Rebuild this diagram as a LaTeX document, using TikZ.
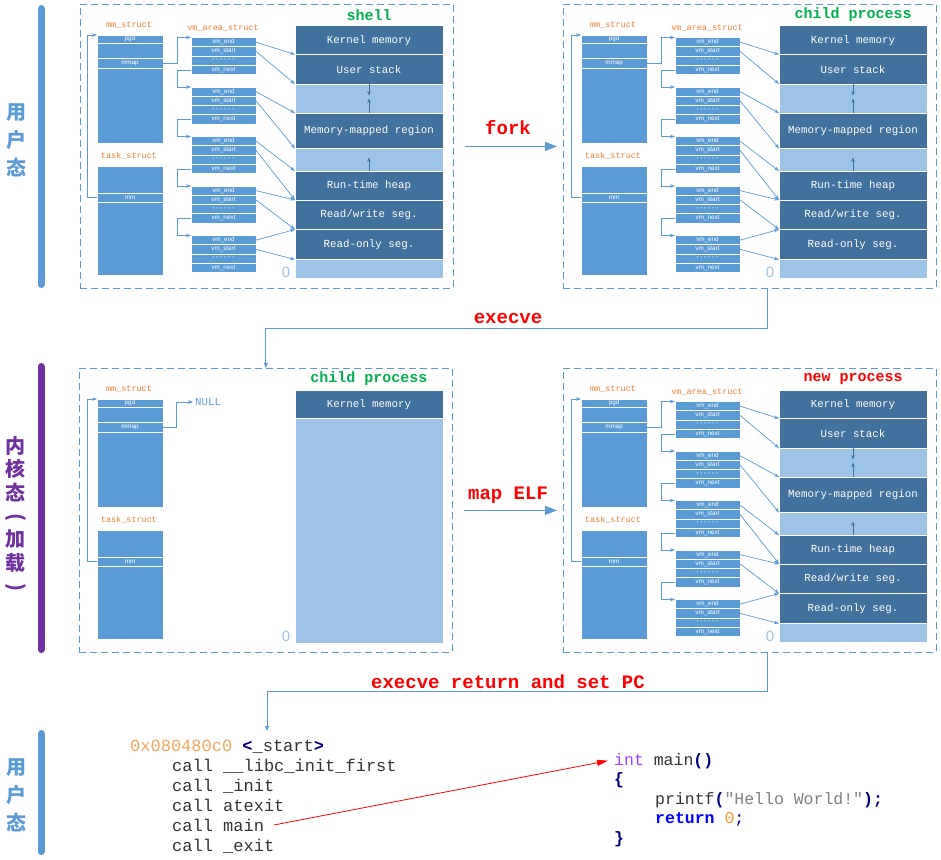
\documentclass[tikz,border=0pt]{standalone}
\usepackage{fontspec}
\setmainfont{Liberation Serif}
\setsansfont{Liberation Sans}
\setmonofont{Liberation Mono}
\newfontfamily\cjk{Noto Sans CJK SC}
\usetikzlibrary{arrows.meta,calc}

\definecolor{blk}{HTML}{5B9BD5}
\definecolor{seg}{HTML}{41719C}
\definecolor{gap}{HTML}{9DC3E6}
\definecolor{lbl}{HTML}{ED7D31}
\definecolor{ttl}{HTML}{00B050}
\definecolor{kern}{HTML}{7030A0}
\definecolor{addr}{HTML}{F5A65B}
\definecolor{navy}{HTML}{000080}
\definecolor{ink}{HTML}{333333}
\definecolor{kw}{HTML}{A040FF}
\definecolor{str}{HTML}{808080}
\definecolor{num}{HTML}{FF9933}

\tikzset{
  panel/.style={draw=blk, dash pattern=on 7pt off 4pt, line width=0.8pt, anchor=north west,
    inner sep=0pt, minimum width=373pt, minimum height=284pt},
  cell/.style={fill=blk, draw=white, line width=0.7pt, anchor=north west, inner sep=0pt,
    outer sep=0pt, text=white, font=\sffamily\fontsize{6.3}{7}\selectfont},
  mmcell/.style={cell, minimum width=66pt, minimum height=#1},
  vmcell/.style={cell, minimum width=65pt, minimum height=9.25pt},
  segbox/.style={fill=seg, draw=white, line width=1pt, anchor=north west, inner sep=0pt,
    outer sep=0pt, minimum width=148pt, minimum height=#1, text=white,
    font=\ttfamily\fontsize{10.8}{12}\selectfont},
  gapbox/.style={segbox=#1, fill=gap},
  structtag/.style={text=lbl, font=\ttfamily\fontsize{8.5}{10}\selectfont},
  proctitle/.style={font=\ttfamily\bfseries\fontsize{15}{16}\selectfont},
  zerotag/.style={text=gap, font=\sffamily\fontsize{15}{16}\selectfont, inner sep=0pt},
  nulltag/.style={text=blk, anchor=west, inner sep=2pt, font=\ttfamily\fontsize{10.8}{12}\selectfont},
  ptr/.style={draw=blk, line width=0.7pt, -{Stealth[length=5pt,width=3.5pt]}},
  growline/.style={draw=seg, line width=0.8pt, -{Stealth[length=4.5pt,width=3.5pt]}},
  flow/.style={draw=blk, line width=0.9pt, -{Triangle[length=5pt,width=4pt]}},
  push/.style={draw=blk, line width=1pt, -{Triangle[length=12pt,width=9pt]}},
  say/.style={text=red, font=\ttfamily\bfseries\fontsize{19}{20}\selectfont},
  bar/.style={line width=7pt, line cap=round},
  side/.style={align=center, inner sep=0pt, font=\cjk\bfseries\fontsize{20}{28}\selectfont},
  code/.style={anchor=base west, inner sep=0pt, text=ink, font=\ttfamily\fontsize{17}{20}\selectfont},
  ccode/.style={code, font=\ttfamily\fontsize{16.5}{20}\selectfont},
  callarrow/.style={draw=red, line width=0.8pt, -{Triangle[length=11pt,width=6pt]}},
}

% mm_struct and task_struct of one process
\newcommand\mmtask{%
  \node[structtag] (mml) at (129,25) {mm\_struct};
  \node[mmcell=8pt] (pgd) at (97,35) {pgd};
  \node[mmcell=15pt] (mmb) at (pgd.south west) {};
  \node[mmcell=10pt] (mmap) at (mmb.south west) {mmap};
  \node[mmcell=75pt] (mmc) at (mmap.south west) {};
  \node[structtag] (tsl) at (129,156) {task\_struct};
  \node[mmcell=27pt] (tka) at (97,166) {};
  \node[mmcell=9pt] (mm) at (tka.south west) {mm};
  \node[mmcell=73pt] (tkc) at (mm.south west) {};
  \draw[ptr] (mm.west) -| ([xshift=-10pt]pgd.north west) -- (pgd.north west);
}

% vm_area_struct list and memory layout
\newcommand\vmchain[2]{%
  \node[structtag] (vml) at (223,28) {vm\_area\_struct};
  \foreach \i in {1,...,5}{
    \node[vmcell] (ve\i) at (191,{37.5+49.5*(\i-1)}) {vm\_end};
    \node[vmcell] (vs\i) at (ve\i.south west) {vm\_start};
    \node[vmcell, font=\sffamily\bfseries\fontsize{6.5}{7}\selectfont] (vd\i) at (vs\i.south west) {· · · · · ·};
    \node[vmcell] (vn\i) at (vd\i.south west) {vm\_next};
  }
  \draw[ptr] (mmap.east) -| ([xshift=-14pt]ve1.north west) -- (ve1.north west);
  \foreach \i [count=\j from 2] in {1,...,4}
    \draw[ptr] (vn\i.west) -| ([xshift=-14pt]ve\j.north west) -- (ve\j.north west);
  \node[proctitle, text=#2] (title) at (369,15) {#1};
  \node[segbox=28.5pt] (kern) at (295,26) {Kernel memory};
  \node[segbox=29.5pt] (ustack) at (kern.south west) {User stack};
  \node[gapbox=29pt] (gapa) at (ustack.south west) {};
  \node[segbox=35.5pt] (mmr) at (gapa.south west) {Memory-mapped region};
  \node[gapbox=22.5pt] (gapb) at (mmr.south west) {};
  \node[segbox=29pt] (heap) at (gapb.south west) {Run-time heap};
  \node[segbox=29.5pt] (rw) at (heap.south west) {Read/write seg.};
  \node[segbox=30pt] (ro) at (rw.south west) {Read-only seg.};
  \node[gapbox=19pt] (base) at (ro.south west) {};
  \node[zerotag] (zero) at (286,272) {0};
  \draw[growline] (ustack.south) -- ($(ustack.south)!0.4!(mmr.north)$);
  \draw[growline] (mmr.north) -- ($(mmr.north)!0.5!(ustack.south)$);
  \draw[growline] (heap.north) -- ($(heap.north)!0.6!(mmr.south)$);
  \foreach \i/\s in {1/ustack,2/mmr,3/heap,4/rw,5/ro}{
    \draw[ptr] (ve\i.east) -- (\s.north west);
    \draw[ptr] (vs\i.east) -- (\s.south west);
  }
}

\begin{document}
\begin{tikzpicture}[x=1pt, y=-1pt]
  \useasboundingbox (0,0) rectangle (941,859);

  % mode bars
  \draw[bar, blk] (41,8.5) -- (41,284.5);
  \draw[bar, kern] (41,366.5) -- (41,649.5);
  \draw[bar, blk] (41,733.5) -- (41,851.5);
  \node[side, text=blk] (user1) at (16,140) {用\\户\\态};
  \node[side, text=kern, font=\cjk\bfseries\fontsize{20}{23.3}\selectfont] (kernel) at (16,515)
    {内\\核\\态\\\rotatebox[origin=c]{-90}{(}\\加\\载\\\rotatebox[origin=c]{-90}{)}};
  \node[side, text=blk] (user2) at (16,795) {用\\户\\态};

  % panels
  \node[panel] (tl) at (80,4) {};
  \node[panel] (tr) at (563,4) {};
  \node[panel] (ml) at (79,368) {};
  \node[panel] (mr) at (563,368) {};

  \begin{scope}[name prefix=tl-]
    \mmtask
    \vmchain{shell}{ttl}
  \end{scope}
  \begin{scope}[shift={(484,0)}, name prefix=tr-]
    \mmtask
    \vmchain{child process}{ttl}
  \end{scope}
  \begin{scope}[shift={(0,364)}, name prefix=ml-]
    \mmtask
    \node[nulltag] (null) at (193,38) {NULL};
    \draw[ptr] (mmap.east) -| ([xshift=-17pt]null.west) -- (null.west);
    \node[proctitle, text=ttl] (title) at (369,15) {child process};
    \node[segbox=28.5pt] (kern) at (295,26) {Kernel memory};
    \node[gapbox=224.5pt] (free) at (kern.south west) {};
    \node[zerotag] (zero) at (286,272) {0};
  \end{scope}
  \begin{scope}[shift={(484,364)}, name prefix=mr-]
    \mmtask
    \vmchain{new process}{red}
  \end{scope}

  % transitions
  \node[say] (forkl) at (508,128) {fork};
  \draw[push] ([xshift=11pt]tl.east) -- ([xshift=-6pt]tr.west);
  \node[say] (execl) at (508,318) {execve};
  \draw[flow] ([xshift=18pt]tr.south) |- ($(tr.south)!0.5!(ml.north)$) -| (ml.north);
  \node[say] (elfl) at (508,495) {map ELF};
  \draw[push] ([xshift=11pt]ml.east) -- ([xshift=-6pt]mr.west);
  \node[say] (retl) at (508,682) {execve return and set PC};
  \coordinate (pc) at (267,731);
  \draw[flow] ([xshift=18pt]mr.south) |- ($(mr.south)!0.5!(pc)$) -| (pc);

  % _start code
  \node[code] (start) at (130,751) {\textcolor{addr}{0x080480c0} \textcolor{navy}{\textbf{<}}\_start\textcolor{navy}{\textbf{>}}};
  \foreach \n/\f [count=\k] in {clibc/\_\_libc\_init\_first, cinit/\_init, catexit/atexit, cmain/main, cexit/\_exit}
    \node[code] (\n) at (172,{751+20*\k}) {call \f};

  % main code
  \node[ccode] (intmain) at (614,765) {\textcolor{kw}{int} main\textcolor{navy}{\textbf{()}}};
  \node[ccode] (lbrace) at (614,784.5) {\textcolor{navy}{\textbf{\{}}};
  \node[ccode] (printf) at (655,804) {printf\textcolor{navy}{\textbf{(}}\textcolor{str}{"Hello World!"}\textcolor{navy}{\textbf{);}}};
  \node[ccode] (ret) at (655,823.5) {\textcolor{blue}{\textbf{return}} \textcolor{num}{0}\textcolor{navy}{;}};
  \node[ccode] (rbrace) at (614,843) {\textcolor{navy}{\textbf{\}}}};
  \draw[callarrow] ([xshift=10pt]cmain.east) -- ([xshift=-6pt]intmain.west);
\end{tikzpicture}
\end{document}
